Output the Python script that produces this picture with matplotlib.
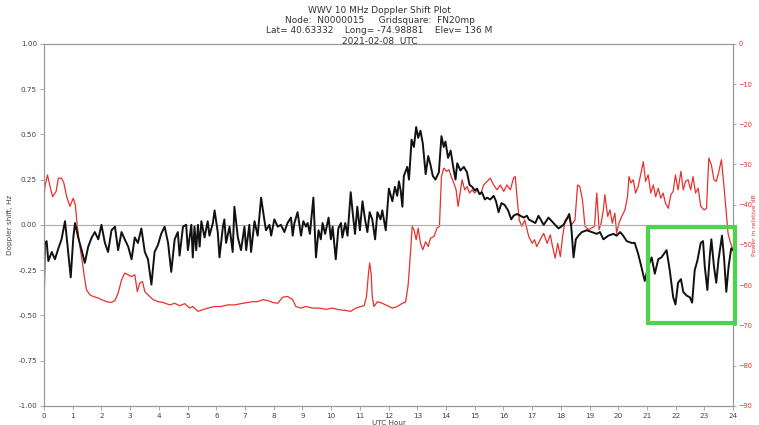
import numpy as np
import matplotlib
matplotlib.use("Agg")
import matplotlib.pyplot as plt
from matplotlib.patches import Rectangle

# Doppler shift (black, left axis)
doppler_hours = [
    0.00, 0.03, 0.09, 0.15, 0.27, 0.38, 0.50, 0.61, 0.73, 0.79, 0.93, 1.02, 1.08, 1.19, 1.31, 1.42,
    1.54, 1.66, 1.77, 1.89, 2.00, 2.12, 2.23, 2.35, 2.47, 2.58, 2.70, 2.81, 2.93, 3.05, 3.16, 3.27,
    3.39, 3.51, 3.62, 3.74, 3.85, 3.97, 4.08, 4.20, 4.32, 4.43, 4.55, 4.66, 4.72, 4.84, 4.95, 5.01,
    5.13, 5.18, 5.24, 5.30, 5.36, 5.42, 5.48, 5.59, 5.70, 5.76, 5.88, 5.94, 6.05, 6.11, 6.23, 6.28,
    6.34, 6.46, 6.57, 6.63, 6.75, 6.86, 6.98, 7.04, 7.15, 7.21, 7.33, 7.44, 7.56, 7.67, 7.73, 7.85,
    7.91, 8.02, 8.14, 8.25, 8.37, 8.48, 8.60, 8.66, 8.72, 8.83, 8.95, 9.03, 9.12, 9.18, 9.26, 9.38,
    9.47, 9.56, 9.64, 9.70, 9.79, 9.91, 9.99, 10.05, 10.16, 10.25, 10.34, 10.39, 10.49, 10.57, 10.68,
    10.76, 10.83, 10.91, 11.00, 11.09, 11.18, 11.26, 11.34, 11.43, 11.53, 11.61, 11.72, 11.78, 11.90,
    12.01, 12.13, 12.22, 12.30, 12.36, 12.42, 12.48, 12.53, 12.65, 12.71, 12.80, 12.88, 12.96, 13.03,
    13.11, 13.19, 13.29, 13.38, 13.46, 13.54, 13.63, 13.75, 13.84, 13.92, 13.98, 14.07, 14.16, 14.25,
    14.33, 14.39, 14.50, 14.62, 14.73, 14.82, 14.91, 15.00, 15.08, 15.16, 15.25, 15.35, 15.43, 15.54,
    15.66, 15.74, 15.83, 15.93, 16.04, 16.16, 16.27, 16.35, 16.47, 16.59, 16.70, 16.82, 16.88, 17.11,
    17.22, 17.40, 17.57, 17.74, 17.92, 18.09, 18.20, 18.29, 18.36, 18.44, 18.52, 18.61, 18.73, 18.90,
    19.07, 19.25, 19.36, 19.48, 19.65, 19.83, 19.94, 20.06, 20.17, 20.29, 20.46, 20.57, 20.69, 20.80,
    20.92, 21.04, 21.16, 21.27, 21.39, 21.50, 21.68, 21.79, 21.91, 21.99, 22.08, 22.18, 22.26, 22.37,
    22.49, 22.57, 22.66, 22.75, 22.87, 22.95, 23.01, 23.10, 23.18, 23.24, 23.33, 23.41, 23.49, 23.61,
    23.68, 23.76, 23.84, 23.93, 23.99,
]
doppler_hz = [
    -0.36, -0.10, -0.09, -0.20, -0.15, -0.19, -0.13, -0.08, 0.02, -0.07, -0.29, -0.07, 0.01, -0.07, -0.14, -0.21,
    -0.12, -0.07, -0.04, -0.08, 0.00, -0.10, -0.15, -0.03, -0.01, -0.14, -0.04, -0.08, -0.12, -0.19, -0.07, -0.10,
    -0.02, -0.15, -0.19, -0.33, -0.15, -0.11, -0.05, -0.01, -0.10, -0.26, -0.08, -0.04, -0.17, -0.01, 0.00, -0.14,
    0.00, -0.18, -0.01, -0.14, 0.00, -0.12, 0.02, -0.07, 0.02, -0.06, 0.01, 0.08, -0.04, -0.18, -0.01, 0.03,
    -0.10, -0.01, -0.15, 0.10, -0.07, -0.14, -0.01, -0.14, 0.00, -0.15, 0.02, -0.06, 0.15, 0.03, -0.03, 0.00,
    -0.06, 0.03, -0.01, 0.00, -0.04, 0.01, 0.04, -0.06, 0.01, 0.07, -0.06, 0.02, -0.01, 0.01, -0.05, 0.15,
    -0.18, -0.03, -0.08, 0.01, -0.05, 0.04, -0.08, -0.01, -0.19, -0.02, 0.01, -0.07, 0.01, -0.06, 0.18,
    0.05, -0.05, 0.10, -0.03, 0.13, 0.03, -0.04, 0.07, 0.03, -0.08, 0.07, 0.03, 0.08, -0.03,
    0.20, 0.13, 0.21, 0.16, 0.24, 0.19, 0.10, 0.27, 0.32, 0.25, 0.47, 0.43, 0.54, 0.48,
    0.52, 0.45, 0.28, 0.38, 0.33, 0.27, 0.25, 0.29, 0.49, 0.43, 0.46, 0.37, 0.41, 0.32,
    0.25, 0.34, 0.30, 0.32, 0.29, 0.22, 0.21, 0.19, 0.20, 0.17, 0.18, 0.14, 0.15, 0.14,
    0.16, 0.13, 0.07, 0.12, 0.11, 0.08, 0.03, 0.05, 0.06, 0.05, 0.04, 0.05, 0.03, 0.01,
    0.05, 0.00, 0.04, 0.01, -0.02, 0.00, 0.03, 0.06, -0.01, -0.18, -0.08, -0.06, -0.04, -0.03,
    -0.04, -0.05, -0.04, -0.08, -0.06, -0.05, -0.06, -0.04, -0.06, -0.09, -0.10, -0.10, -0.16, -0.23,
    -0.31, -0.23, -0.18, -0.27, -0.19, -0.18, -0.14, -0.25, -0.40, -0.44, -0.32, -0.30, -0.37, -0.39,
    -0.40, -0.43, -0.25, -0.20, -0.10, -0.09, -0.23, -0.36, -0.18, -0.08, -0.23, -0.32, -0.19, -0.06,
    -0.18, -0.37, -0.23, -0.13, -0.14,
]

# Received power (red, right axis)
power_hours = [
    0.00, 0.03, 0.12, 0.21, 0.30, 0.42, 0.50, 0.61, 0.69, 0.79, 0.90, 1.02, 1.09, 1.16, 1.25, 1.34,
    1.42, 1.48, 1.60, 1.71, 1.89, 2.00, 2.18, 2.35, 2.47, 2.58, 2.70, 2.81, 2.93, 3.05, 3.16, 3.25,
    3.33, 3.43, 3.51, 3.62, 3.80, 3.97, 4.14, 4.38, 4.55, 4.72, 4.90, 5.07, 5.18, 5.36, 5.53, 5.70,
    5.94, 6.17, 6.40, 6.63, 6.86, 7.09, 7.27, 7.44, 7.62, 7.79, 7.96, 8.14, 8.31, 8.48, 8.66, 8.77,
    8.95, 9.12, 9.35, 9.58, 9.82, 10.05, 10.28, 10.51, 10.68, 10.86, 11.03, 11.15, 11.23, 11.30, 11.34,
    11.39, 11.43, 11.49, 11.61, 11.78, 11.96, 12.13, 12.30, 12.48, 12.59, 12.68, 12.77, 12.82, 12.88,
    12.96, 13.03, 13.11, 13.19, 13.29, 13.38, 13.46, 13.58, 13.69, 13.77, 13.84, 13.92, 14.02, 14.10,
    14.18, 14.27, 14.35, 14.42, 14.50, 14.56, 14.65, 14.73, 14.82, 14.91, 15.00, 15.08, 15.20, 15.31,
    15.43, 15.54, 15.66, 15.78, 15.89, 16.01, 16.12, 16.24, 16.35, 16.41, 16.47, 16.55, 16.64, 16.74,
    16.82, 16.88, 17.00, 17.08, 17.16, 17.28, 17.40, 17.52, 17.63, 17.71, 17.80, 17.89, 17.98, 18.06,
    18.15, 18.26, 18.37, 18.49, 18.58, 18.66, 18.75, 18.84, 18.96, 19.07, 19.17, 19.25, 19.33, 19.40,
    19.48, 19.53, 19.63, 19.71, 19.79, 19.88, 19.94, 20.02, 20.12, 20.23, 20.32, 20.37, 20.44, 20.52,
    20.60, 20.69, 20.79, 20.87, 20.95, 21.04, 21.13, 21.22, 21.30, 21.39, 21.48, 21.56, 21.64, 21.74,
    21.83, 21.91, 21.99, 22.08, 22.18, 22.26, 22.34, 22.43, 22.52, 22.60, 22.69, 22.78, 22.87, 22.99,
    23.07, 23.15, 23.24, 23.33, 23.41, 23.49, 23.59, 23.68, 23.76, 23.82, 23.91, 24.00,
]
power_db = [
    -38.3, -35.5, -32.6, -35.5, -38.0, -36.7, -33.4, -33.4, -34.6, -38.0, -40.4, -38.4, -40.0, -45.4, -50.4, -54.5,
    -58.7, -61.2, -62.4, -62.8, -63.2, -63.6, -64.1, -64.3, -63.8, -62.0, -58.7, -57.0, -57.4, -57.9, -57.4, -61.6,
    -59.5, -59.1, -61.6, -62.4, -63.6, -64.1, -64.3, -64.9, -64.5, -65.1, -64.6, -65.7, -65.3, -66.5, -66.1, -65.7,
    -65.3, -65.3, -64.9, -64.9, -64.6, -64.3, -64.1, -64.1, -63.6, -63.8, -64.3, -64.5, -63.0, -62.8, -63.6, -65.3,
    -65.7, -65.3, -65.7, -65.7, -66.0, -65.7, -66.1, -66.3, -66.5, -65.7, -65.3, -65.1, -62.8, -57.0, -54.5,
    -57.0, -62.8, -65.3, -64.1, -64.5, -65.1, -65.7, -65.3, -64.5, -64.2, -60.0, -51.2, -45.4, -46.2,
    -48.7, -45.8, -49.6, -51.2, -49.2, -50.4, -48.3, -47.9, -45.8, -45.4, -33.0, -30.9, -31.7, -31.3,
    -33.0, -34.6, -36.3, -40.4, -36.7, -33.8, -36.3, -35.5, -37.1, -36.3, -37.1, -36.3, -37.5, -35.1,
    -34.2, -33.4, -35.1, -36.3, -35.1, -36.7, -35.1, -36.3, -33.4, -33.0, -38.0, -43.8, -45.4, -43.8,
    -46.2, -47.9, -49.6, -48.7, -50.4, -48.7, -47.1, -49.6, -47.5, -50.4, -53.3, -49.6, -52.9, -47.9,
    -43.8, -42.9, -45.0, -43.8, -35.1, -35.5, -38.8, -45.4, -46.2, -45.8, -45.4, -37.1, -46.2, -44.6,
    -41.3, -37.5, -42.9, -41.3, -44.6, -42.1, -47.1, -44.6, -42.9, -41.3, -38.0, -33.0, -34.6, -33.8,
    -37.1, -35.5, -32.1, -29.3, -34.2, -32.6, -37.1, -35.1, -38.0, -35.9, -38.4, -37.1, -39.6, -40.9,
    -37.5, -36.7, -32.6, -36.3, -31.7, -36.3, -34.2, -33.8, -36.3, -33.0, -37.1, -35.9, -40.4, -41.3,
    -40.9, -28.4, -30.1, -33.8, -34.2, -32.1, -28.8, -35.5, -42.1, -47.1, -49.6, -51.2,
]

# highlighted region (hours, Hz)
box_hours = (21.04, 24.06)
box_hz = (-0.54, -0.01)

title_lines = [
    "WWV 10 MHz Doppler Shift Plot",
    "Node:  N0000015     Gridsquare:  FN20mp",
    "Lat= 40.63332    Long= -74.98881    Elev= 136 M",
    "2021-02-08  UTC",
]

plt.rcParams["font.family"] = "DejaVu Sans"
fig = plt.figure(figsize=(7.59, 4.25), dpi=100)
ax = fig.add_axes([0.058, 0.045, 0.908, 0.852])
ax2 = ax.twinx()

# keep the black trace above the red one
ax.set_zorder(ax2.get_zorder() + 1)
ax.patch.set_visible(False)

ax2.plot(power_hours, power_db, color="#e8302c", lw=0.9)
ax.plot(doppler_hours, doppler_hz, color="#111111", lw=1.4)
ax.axhline(0, color="#aaaaaa", lw=0.8, zorder=0)

ax.add_patch(Rectangle((box_hours[0], box_hz[0]), box_hours[1] - box_hours[0],
                       box_hz[1] - box_hz[0], fill=False, edgecolor="#4cd44c",
                       lw=3.0, clip_on=False, zorder=5))

ax.set_xlim(0, 24)
ax.set_ylim(-1.0, 1.0)
ax2.set_ylim(-90, 0)
ax.set_xticks(range(0, 25))
ax.set_yticks(np.arange(-1.0, 1.01, 0.25))
ax.yaxis.set_major_formatter(matplotlib.ticker.FormatStrFormatter("%.2f"))
ax2.set_yticks(range(-90, 1, 10))

for a in (ax, ax2):
    for s in a.spines.values():
        s.set_color("#999999")
    a.tick_params(labelsize=5.2, color="#999999", length=3, width=0.6, pad=2)
ax.tick_params(labelcolor="#444444")
ax2.tick_params(axis="y", labelcolor="#e8302c", labelsize=4.8, length=2.5, pad=1.2)

ax.set_xlabel("UTC Hour", fontsize=5.2, color="#444444", labelpad=0.5)
ax.set_ylabel("Doppler shift, Hz", fontsize=5.2, color="#444444", labelpad=4)
ax2.set_ylabel("Power in relative dB", fontsize=4.4, color="#e8302c", va="center")
ax2.yaxis.set_label_coords(1.0305, 0.5)

fig.text(0.5, 0.985, "\n".join(title_lines), ha="center", va="top",
         fontsize=6.5, color="#333333", linespacing=1.15)

fig.savefig("out.png", dpi=100)
